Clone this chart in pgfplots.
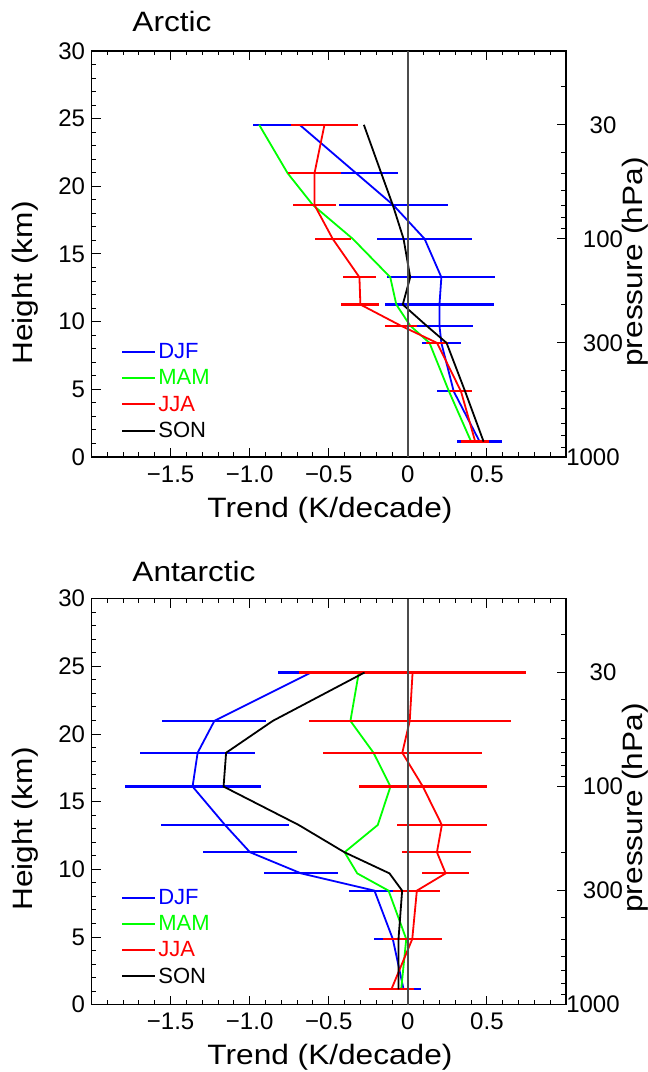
\documentclass[border=0pt]{standalone}
\usepackage{pgfplots}
\pgfplotsset{compat=1.18}
\usepackage{pgfplotstable}
\usepackage{fontspec}
\setmainfont{Liberation Sans}
\newfontfamily\labfont[FakeStretch=1.13]{Liberation Sans}
\newcommand{\labsize}{\labfont\fontsize{28}{32}\selectfont}
\newcommand{\ticksize}{\fontsize{24}{28}\selectfont}
\newcommand{\legsize}{\fontsize{22}{26}\selectfont}

% heights z = 7 ln(1000/p) for p = 850,500,300,250,200,150,100,70,50,30 hPa
\pgfplotstableread{
z x e
1.138 0.454 0.143
4.852 0.290 0.105
8.428 0.212 0.125
9.704 0.200 0.215
11.266 0.200 0.342
13.280 0.212 0.341
16.118 0.106 0.302
18.615 -0.092 0.343
20.970 -0.327 0.265
24.546 -0.684 0.296
}\arcDJF
\pgfplotstableread{
z x
1.138 0.400
4.852 0.260
8.428 0.137
9.704 0.015
11.266 -0.073
13.280 -0.111
16.118 -0.348
18.615 -0.600
20.970 -0.760
24.546 -0.940
}\arcMAM
\pgfplotstableread{
z x e
1.138 0.426 0.090
4.852 0.336 0.070
8.428 0.185 0.072
9.704 -0.045 0.100
11.266 -0.300 0.120
13.280 -0.306 0.105
16.118 -0.475 0.115
18.615 -0.590 0.135
20.970 -0.590 0.170
24.546 -0.527 0.210
}\arcJJA
\pgfplotstableread{
z x
1.138 0.479
4.852 0.362
8.428 0.245
9.704 0.118
11.266 -0.032
13.280 0.015
16.118 -0.027
18.615 -0.095
20.970 -0.168
24.546 -0.278
}\arcSON

\pgfplotstableread{
z x e
1.138 -0.027 0.112
4.852 -0.095 0.120
8.428 -0.211 0.163
9.704 -0.675 0.235
11.266 -0.998 0.300
13.280 -1.156 0.404
16.118 -1.361 0.430
18.615 -1.329 0.364
20.970 -1.223 0.329
24.546 -0.611 0.211
}\antDJF
\pgfplotstableread{
z x
1.138 -0.042
4.852 -0.010
8.428 -0.122
9.704 -0.320
11.266 -0.400
13.280 -0.190
16.118 -0.110
18.615 -0.217
20.970 -0.363
24.546 -0.310
}\antMAM
\pgfplotstableread{
z x e
1.138 -0.104 0.141
4.852 0.028 0.187
8.428 0.057 0.148
9.704 0.239 0.150
11.266 0.184 0.218
13.280 0.215 0.283
16.118 0.095 0.406
18.615 -0.035 0.503
20.970 0.012 0.640
24.546 0.030 0.715
}\antJJA
\pgfplotstableread{
z x
1.138 -0.059
4.852 -0.059
8.428 -0.036
9.704 -0.116
11.266 -0.401
13.280 -0.690
16.118 -1.165
18.615 -1.149
20.970 -0.854
24.546 -0.274
}\antSON

\pgfplotsset{
  panel/.style={
    scale only axis, width=474.5pt, height=406pt,
    xmin=-2, xmax=1, ymin=0, ymax=30,
    axis line style={line width=1.3pt},
    every tick/.style={line width=1pt, black},
    major tick length=9pt, minor tick length=4.5pt,
    xtick={-2,-1.5,-1,-0.5,0,0.5,1},
    xticklabels={,−1.5,−1.0,−0.5,0,0.5,},
    minor xtick={-1.9,-1.8,-1.7,-1.6,-1.4,-1.3,-1.2,-1.1,-0.9,-0.8,-0.7,-0.6,-0.4,-0.3,-0.2,-0.1,0.1,0.2,0.3,0.4,0.6,0.7,0.8,0.9},
    xtick pos=both, xticklabel pos=bottom,
    ytick={0,5,...,30},
    yticklabels={0,5,10,15,20,25,30},
    minor ytick={1,2,3,4,6,7,8,9,11,12,13,14,16,17,18,19,21,22,23,24,26,27,28,29},
    ytick pos=left,
    ticklabel style={font=\ticksize},
    xticklabel style={yshift=-5pt},
    yticklabel style={xshift=-3pt},
    legend cell align=left,
    legend style={draw=none, fill=none, font=\legsize, inner sep=0pt,
      row sep=7.6pt, column sep=1pt, anchor=west,
      nodes={inner sep=1pt}},
  },
  presaxis/.style={
    scale only axis, width=474.5pt, height=406pt,
    xmin=-2, xmax=1, ymin=0, ymax=30,
    axis line style={draw=none},
    every tick/.style={line width=1pt, black},
    major tick length=9pt, minor tick length=5pt,
    xtick=\empty,
    ytick={8.428,16.118,24.546},
    yticklabels={300,100,30},
    extra y ticks={0},
    extra y tick labels={1000},
    extra y tick style={yticklabel style={xshift=-10pt}},
    minor ytick={0.738,1.562,2.497,3.576,4.852,6.414,11.266,16.855,17.680,18.615,19.694,20.970,22.532,27.384},
    ytick pos=right, yticklabel pos=right,
    yticklabel style={font=\ticksize, anchor=center, xshift=37pt},
  },
  djf/.style={blue, line width=1.8pt},
  mam/.style={green, line width=1.8pt},
  jja/.style={red, line width=1.8pt},
  son/.style={black, line width=1.8pt},
  ebar/.style={error bars/.cd, x dir=both, x explicit, error mark=none,
    error bar style={line width=2.2pt}},
  legline/.style={legend image code/.code={\draw[#1, line width=1.9pt] (0pt,0pt) -- (33pt,0pt);}},
}

\begin{document}
\begin{tikzpicture}
\useasboundingbox (0pt,0pt) rectangle (648pt,1072pt);

% ---------- Arctic ----------
\begin{axis}[panel, at={(91.5pt,615pt)}, anchor=south west,
  legend style={at={(axis cs:-1.812,4.86)}}]
\addlegendimage{legline=blue}
\addlegendimage{legline=green}
\addlegendimage{legline=red}
\addlegendimage{legline=black}
\addplot[forget plot, djf, ebar] table[x=x, y=z, x error=e] {\arcDJF};
\addplot[forget plot, mam] table[x=x, y=z] {\arcMAM};
\addplot[forget plot, jja, ebar] table[x=x, y=z, x error=e] {\arcJJA};
\addplot[forget plot, son] table[x=x, y=z] {\arcSON};
\addplot[forget plot, color=black!70, line width=1.5pt] coordinates {(0,0) (0,30)};
\legend{\textcolor{blue}{DJF},\textcolor{green}{MAM},\textcolor{red}{JJA},\textcolor{black}{SON}}
\end{axis}
\begin{axis}[presaxis, at={(91.5pt,615pt)}, anchor=south west]
\end{axis}

% ---------- Antarctic ----------
\begin{axis}[panel, at={(91.5pt,67.3pt)}, anchor=south west,
  legend style={at={(axis cs:-1.812,5.0)}}]
\addlegendimage{legline=blue}
\addlegendimage{legline=green}
\addlegendimage{legline=red}
\addlegendimage{legline=black}
\addplot[forget plot, djf, ebar] table[x=x, y=z, x error=e] {\antDJF};
\addplot[forget plot, mam] table[x=x, y=z] {\antMAM};
\addplot[forget plot, jja, ebar] table[x=x, y=z, x error=e] {\antJJA};
\addplot[forget plot, son] table[x=x, y=z] {\antSON};
\addplot[forget plot, color=black!70, line width=1.5pt] coordinates {(0,0) (0,30)};
\legend{\textcolor{blue}{DJF},\textcolor{green}{MAM},\textcolor{red}{JJA},\textcolor{black}{SON}}
\end{axis}
\begin{axis}[presaxis, at={(91.5pt,67.3pt)}, anchor=south west]
\end{axis}

% ---------- labels ----------
\node[font=\labsize] at (172pt,1050pt) {Arctic};
\node[font=\labsize] at (194pt,501pt) {Antarctic};
\node[font=\labsize] at (330pt,562pt) {Trend (K/decade)};
\node[font=\labsize] at (330pt,15pt) {Trend (K/decade)};
\node[font=\labsize, rotate=90] at (25pt,789pt) {Height (km)};
\node[font=\labsize, rotate=90] at (25pt,243pt) {Height (km)};
\node[font=\labsize, rotate=90] at (635pt,810pt) {pressure (hPa)};
\node[font=\labsize, rotate=90] at (635pt,264pt) {pressure (hPa)};
\end{tikzpicture}
\end{document}
